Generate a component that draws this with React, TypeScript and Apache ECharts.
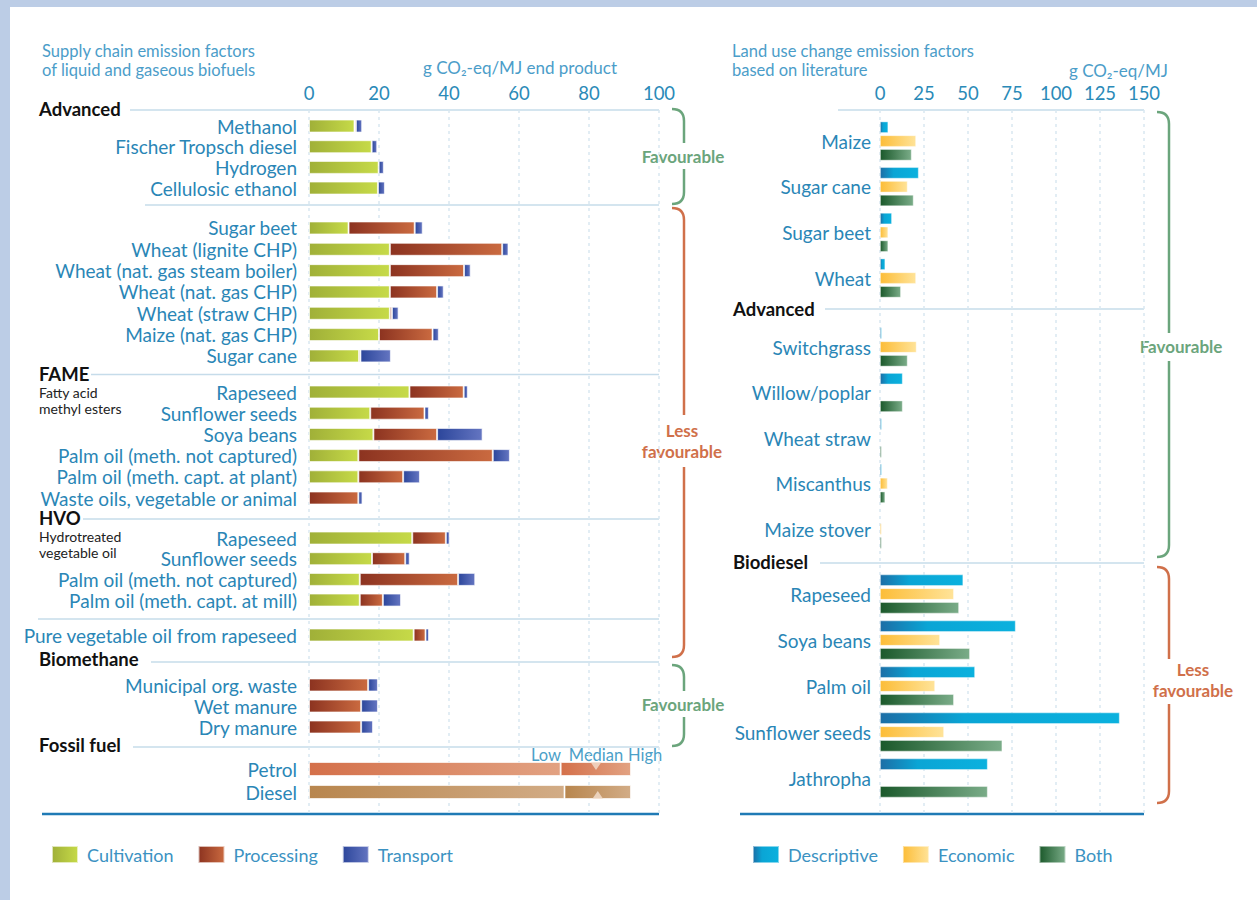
import React, { useEffect, useRef } from "react";
import * as echarts from "echarts";

// ---------- DATA (left: supply chain emission factors, g CO2-eq/MJ) ----------
const advancedCats = ["Methanol", "Fischer Tropsch diesel", "Hydrogen", "Cellulosic ethanol"];
const advancedCult = [13.0, 17.9, 19.9, 19.7];
const advancedProc = [0.4, null, null, null];
const advancedTrans = [1.8, 1.6, 1.5, 2.0];

const ethanolCats = [
  "Sugar beet",
  "Wheat (lignite CHP)",
  "Wheat (nat. gas steam boiler)",
  "Wheat (nat. gas CHP)",
  "Wheat (straw CHP)",
  "Maize (nat. gas CHP)",
  "Sugar cane",
];
const ethanolCult = [11.3, 23.1, 23.1, 23.1, 23.1, 20.0, 14.3];
const ethanolProc = [18.9, 32.1, 21.2, 13.5, 0.6, 15.3, 0.4];
const ethanolTrans = [2.3, 1.8, 1.9, 1.9, 1.9, 1.8, 8.7];

const fameCats = [
  "Rapeseed",
  "Sunflower seeds",
  "Soya beans",
  "Palm oil (meth. not captured)",
  "Palm oil (meth. capt. at plant)",
  "Waste oils, vegetable or animal",
];
const fameCult = [28.7, 17.5, 18.4, 14.1, 14.1, null];
const fameProc = [15.5, 15.5, 18.2, 38.4, 12.8, 14.1];
const fameTrans = [1.2, 1.3, 13.0, 4.9, 4.8, 1.2];

const hvoCats = ["Rapeseed", "Sunflower seeds", "Palm oil (meth. not captured)", "Palm oil (meth. capt. at mill)"];
const hvoCult = [29.5, 18.0, 14.5, 14.5];
const hvoProc = [9.6, 9.5, 28.1, 6.6];
const hvoTrans = [1.1, 1.3, 4.9, 5.2];

const pvoCats = ["Pure vegetable oil from rapeseed"];
const pvoCult = [29.9];
const pvoProc = [3.4];
const pvoTrans = [1.0];

const biomethaneCats = ["Municipal org. waste", "Wet manure", "Dry manure"];
const biomethaneCult = [null, null, null];
const biomethaneProc = [16.9, 14.9, 14.9];
const biomethaneTrans = [2.8, 4.8, 3.4];

const fossilCats = ["Petrol", "Diesel"];
const fossilLow = [71.9, 73.0];
const fossilMedian = [82.0, 82.5];
const fossilHigh = [92.0, 92.0];

const leftTicks = { min: 0, max: 100, interval: 20 };

// ---------- DATA (right: land use change emission factors, g CO2-eq/MJ) ----------
const foodCats = ["Maize", "Sugar cane", "Sugar beet", "Wheat"];
const foodDesc = [4.7, 22.0, 6.8, 3.0];
const foodEcon = [20.5, 15.7, 4.7, 20.5];
const foodBoth = [18.0, 19.1, 4.7, 11.9];

const advLucCats = ["Switchgrass", "Willow/poplar", "Wheat straw", "Miscanthus", "Maize stover"];
const advLucDesc = [1.0, 12.9, 1.0, 1.0, null];
const advLucEcon = [20.8, null, null, 4.4, 1.0];
const advLucBoth = [15.7, 12.9, 1.0, 3.0, 1.0];

const biodieselCats = ["Rapeseed", "Soya beans", "Palm oil", "Sunflower seeds", "Jathropha"];
const biodieselDesc = [47.3, 77.1, 54.0, 136.2, 61.2];
const biodieselEcon = [42.0, 34.1, 31.3, 36.4, null];
const biodieselBoth = [44.9, 51.1, 42.0, 69.5, 61.2];

const rightTicks = { min: 0, max: 150, interval: 25 };

// ---------- STYLE ----------
const FONT = "Lato";
const LABEL_BLUE = "#2a86b6";
const TITLE_BLUE = "#4b9dc9";
const GREEN_BRACE = "#6ba57c";
const ORANGE_BRACE = "#d0704a";

const grad = (stops: [number, string][]) =>
  new echarts.graphic.LinearGradient(
    0, 0, 1, 0,
    stops.map(([offset, color]) => ({ offset, color }))
  );

const colCult = () => grad([[0, "#a0b038"], [1, "#c6da48"]]);
const colProc = () => grad([[0, "#8c3320"], [1, "#ca6a40"]]);
const colTrans = () => grad([[0, "#2c469b"], [1, "#6475c1"]]);
const colDesc = () => grad([[0, "#1c6ea6"], [0.35, "#0aa5d5"], [1, "#0bb1de"]]);
const colEcon = () => grad([[0, "#fcbd38"], [1, "#ffe398"]]);
const colBoth = () => grad([[0, "#1b592b"], [1, "#7aac88"]]);
const colPetrol = () => grad([[0, "#d4704a"], [1, "#e2a282"]]);
const colDiesel = () => grad([[0, "#b8864e"], [1, "#d2ac86"]]);

// layout of the groups (pixel layout, not data)
const leftX = 309;
const leftW = 350;
const rightX = 880;
const rightW = 264;

export default function App() {
  const ref = useRef<HTMLDivElement>(null);

  useEffect(() => {
    if (!ref.current) return;
    const chart = echarts.init(ref.current, null, { renderer: "svg" });

    const grids: any[] = [];
    const xAxes: any[] = [];
    const yAxes: any[] = [];
    const series: any[] = [];

    const bgAxis = (gi: number, t: any) => ({
      gridIndex: gi,
      type: "value",
      min: t.min,
      max: t.max,
      interval: t.interval,
      position: "top",
      axisLine: { show: false },
      axisTick: { show: false },
      axisLabel: { color: "#2a8ab8", fontSize: 18.5, margin: 8, fontFamily: FONT },
      splitLine: { show: true, lineStyle: { type: [3, 4], color: "#d9e7f1", width: 1.5 } },
    });
    grids.push({ left: leftX, width: leftW, top: 110, height: 704 });
    xAxes.push(bgAxis(0, leftTicks));
    yAxes.push({ gridIndex: 0, type: "value", show: false });
    grids.push({ left: rightX, width: rightW, top: 110, height: 704 });
    xAxes.push(bgAxis(1, rightTicks));
    yAxes.push({ gridIndex: 1, type: "value", show: false });

    const catAxis = (gi: number, cats: string[], margin: number) => ({
      gridIndex: gi,
      type: "category",
      data: cats,
      inverse: true,
      axisLine: { show: false },
      axisTick: { show: false },
      splitLine: { show: false },
      axisLabel: { color: LABEL_BLUE, fontSize: 19, margin, interval: 0, fontFamily: FONT },
    });
    const hiddenX = (gi: number, t: any) => ({
      gridIndex: gi, type: "value", min: t.min, max: t.max, show: false,
    });

    const barBorder = { borderColor: "rgba(255,255,255,0.65)", borderWidth: 1 };

    const leftGroups = [
      { cats: advancedCats, cult: advancedCult, proc: advancedProc, trans: advancedTrans, top: 115.7, rowH: 20.67 },
      { cats: ethanolCats, cult: ethanolCult, proc: ethanolProc, trans: ethanolTrans, top: 217.3, rowH: 21.33 },
      { cats: fameCats, cult: fameCult, proc: fameProc, trans: fameTrans, top: 381.4, rowH: 21.2 },
      { cats: hvoCats, cult: hvoCult, proc: hvoProc, trans: hvoTrans, top: 527.7, rowH: 20.67 },
      { cats: pvoCats, cult: pvoCult, proc: pvoProc, trans: pvoTrans, top: 624.5, rowH: 21 },
      { cats: biomethaneCats, cult: biomethaneCult, proc: biomethaneProc, trans: biomethaneTrans, top: 674.5, rowH: 21 },
    ];

    leftGroups.forEach((g, i) => {
      const gi = grids.length;
      grids.push({ left: leftX, width: leftW, top: g.top, height: g.rowH * g.cats.length });
      xAxes.push(hiddenX(gi, leftTicks));
      yAxes.push(catAxis(gi, g.cats, 12));
      const parts: [string, any[], () => any][] = [
        ["Cultivation", g.cult, colCult],
        ["Processing", g.proc, colProc],
        ["Transport", g.trans, colTrans],
      ];
      parts.forEach(([name, data, col]) => {
        series.push({
          type: "bar",
          name,
          xAxisIndex: gi,
          yAxisIndex: gi,
          stack: "left" + i,
          barWidth: 13,
          data,
          itemStyle: { color: col(), ...barBorder },
        });
      });
    });

    // fossil fuels
    {
      const gi = grids.length;
      grids.push({ left: leftX, width: leftW, top: 757.5, height: 46 });
      xAxes.push(hiddenX(gi, leftTicks));
      yAxes.push(catAxis(gi, fossilCats, 12));
      const fossilCol = [colPetrol, colDiesel];
      series.push({
        type: "bar",
        name: "Low",
        xAxisIndex: gi,
        yAxisIndex: gi,
        stack: "fossil",
        barWidth: 14,
        data: fossilLow.map((v, k) => ({ value: v, itemStyle: { color: fossilCol[k]() } })),
        itemStyle: barBorder,
      });
      series.push({
        type: "bar",
        name: "High",
        xAxisIndex: gi,
        yAxisIndex: gi,
        stack: "fossil",
        barWidth: 14,
        data: fossilHigh.map((v, k) => ({ value: +(v - fossilLow[k]).toFixed(2), itemStyle: { color: fossilCol[k]() } })),
        itemStyle: barBorder,
      });
      series.push({
        type: "scatter",
        name: "Median",
        xAxisIndex: gi,
        yAxisIndex: gi,
        z: 5,
        symbol: "triangle",
        symbolSize: [11, 8],
        data: fossilMedian.map((v, k) => ({
          value: [v, k],
          symbolRotate: k === 0 ? 180 : 0,
          symbolOffset: [0, k === 0 ? -3 : 3],
        })),
        itemStyle: { color: "#f4e0d0" },
      });
    }

    // right groups
    const rightGroups = [
      { cats: foodCats, desc: foodDesc, econ: foodEcon, both: foodBoth, top: 118.2, rowH: 45.67 },
      { cats: advLucCats, desc: advLucDesc, econ: advLucEcon, both: advLucBoth, top: 324.25, rowH: 45.5 },
      { cats: biodieselCats, desc: biodieselDesc, econ: biodieselEcon, both: biodieselBoth, top: 571, rowH: 46 },
    ];
    rightGroups.forEach((g) => {
      const gi = grids.length;
      grids.push({ left: rightX, width: rightW, top: g.top, height: g.rowH * g.cats.length });
      xAxes.push(hiddenX(gi, rightTicks));
      yAxes.push(catAxis(gi, g.cats, 9));
      const parts: [string, any[], () => any][] = [
        ["Descriptive", g.desc, colDesc],
        ["Economic", g.econ, colEcon],
        ["Both", g.both, colBoth],
      ];
      parts.forEach(([name, data, col]) => {
        series.push({
          type: "bar",
          name,
          xAxisIndex: gi,
          yAxisIndex: gi,
          barWidth: 11.5,
          barGap: "20%",
          data,
          itemStyle: { color: col(), borderColor: "rgba(255,255,255,0.5)", borderWidth: 0.8 },
        });
      });
    });

    // ---------- graphic annotations ----------
    const G: any[] = [];
    G.push({ type: "rect", shape: { x: 0, y: 0, width: 1257, height: 7 }, style: { fill: "#bccde6" } });
    G.push({ type: "rect", shape: { x: 0, y: 0, width: 10, height: 900 }, style: { fill: "#bccde6" } });

    const text = (x: number, y: number, t: string, o: any = {}) => ({
      type: "text",
      x,
      y,
      style: {
        text: t,
        fill: o.fill || TITLE_BLUE,
        fontSize: o.fontSize || 16.5,
        fontWeight: o.fontWeight || "normal",
        fontFamily: FONT,
        align: o.align || "left",
        verticalAlign: "middle",
      },
    });

    G.push(text(42, 51, "Supply chain emission factors"));
    G.push(text(42, 70, "of liquid and gaseous biofuels"));
    G.push(text(520, 67, "g CO₂-eq/MJ end product", { align: "center", fontSize: 17 }));
    G.push(text(732, 51, "Land use change emission factors"));
    G.push(text(732, 70, "based on literature"));
    G.push(text(1168, 70, "g CO₂-eq/MJ", { align: "right", fontSize: 17 }));

    const head = { fill: "#111111", fontSize: 18.5, fontWeight: "bold" };
    G.push(text(39, 109, "Advanced", head));
    G.push(text(39, 374, "FAME", head));
    G.push(text(39, 518, "HVO", head));
    G.push(text(39, 659, "Biomethane", head));
    G.push(text(39, 745, "Fossil fuel", head));
    G.push(text(733, 309, "Advanced", head));
    G.push(text(733, 562, "Biodiesel", head));
    const sub = { fill: "#222222", fontSize: 14 };
    G.push(text(39, 392.5, "Fatty acid", sub));
    G.push(text(39, 408, "methyl esters", sub));
    G.push(text(39, 536.5, "Hydrotreated", sub));
    G.push(text(39, 552, "vegetable oil", sub));

    const lowStyle = { fill: "#4ba0c8", fontSize: 16.5 };
    G.push(text(561, 755, "Low", { ...lowStyle, align: "right" }));
    G.push(text(596, 755, "Median", { ...lowStyle, align: "center" }));
    G.push(text(628, 755, "High", lowStyle));

    const hline = (x1: number, y: number, x2: number, stroke = "#c6dcea", w = 1.5) => ({
      type: "line",
      shape: { x1, y1: y, x2, y2: y },
      style: { stroke, lineWidth: w },
    });
    [
      [130, 110], [145, 205], [91, 374.5], [83, 519], [38, 619], [151, 662], [133, 747],
    ].forEach(([x, y]) => G.push(hline(x, y, 659)));
    [
      [838, 110], [825, 309], [820, 563],
    ].forEach(([x, y]) => G.push(hline(x, y, 1144)));
    G.push(hline(42, 814, 659, "#1f7ab5", 2.5));
    G.push(hline(740, 814, 1144, "#1f7ab5", 2.5));

    const brace = (xl: number, xr: number, y1: number, y2: number, g1: number, g2: number, color: string) => {
      const r = 12;
      const st = { stroke: color, lineWidth: 2.5, fill: null };
      G.push({ type: "bezierCurve", shape: { x1: xl, y1, cpx1: xr, cpy1: y1, x2: xr, y2: y1 + r }, style: st });
      G.push({ type: "line", shape: { x1: xr, y1: y1 + r, x2: xr, y2: g1 }, style: st });
      G.push({ type: "line", shape: { x1: xr, y1: g2, x2: xr, y2: y2 - r }, style: st });
      G.push({ type: "bezierCurve", shape: { x1: xr, y1: y2 - r, cpx1: xr, cpy1: y2, x2: xl, y2 }, style: st });
    };
    const bt = (x: number, y: number, t: string, color: string) =>
      G.push(text(x, y, t, { fill: color, fontSize: 17, fontWeight: "bold", align: "center" }));

    brace(672, 684, 109, 204, 143, 169, GREEN_BRACE);
    bt(683, 156, "Favourable", GREEN_BRACE);
    brace(672, 684, 208, 657, 415, 467, ORANGE_BRACE);
    bt(682, 430, "Less", ORANGE_BRACE);
    bt(682, 451, "favourable", ORANGE_BRACE);
    brace(672, 684, 665, 746, 691, 717, GREEN_BRACE);
    bt(683, 704, "Favourable", GREEN_BRACE);

    brace(1157, 1169, 112, 557, 333, 361, GREEN_BRACE);
    bt(1181, 346, "Favourable", GREEN_BRACE);
    brace(1157, 1169, 567, 803, 659, 704, ORANGE_BRACE);
    bt(1193, 669, "Less", ORANGE_BRACE);
    bt(1193, 690, "favourable", ORANGE_BRACE);

    const legendBase = {
      top: 840,
      itemWidth: 26,
      itemHeight: 17,
      itemGap: 24,
      icon: "rect",
      textStyle: { fontSize: 18, color: "#3b92c2", fontFamily: FONT, padding: [0, 0, 0, 4] },
    };

    chart.setOption({
      animation: false,
      backgroundColor: "#ffffff",
      textStyle: { fontFamily: FONT },
      grid: grids,
      xAxis: xAxes,
      yAxis: yAxes,
      series,
      legend: [
        { ...legendBase, left: 46, data: ["Cultivation", "Processing", "Transport"] },
        { ...legendBase, left: 747, data: ["Descriptive", "Economic", "Both"] },
      ],
      graphic: G,
    });

    return () => chart.dispose();
  }, []);

  return (
    <div style={{ position: "fixed", left: 0, top: 0, width: 1257, height: 900, background: "#ffffff" }}>
      <div ref={ref} style={{ width: 1257, height: 900 }} />
    </div>
  );
}
